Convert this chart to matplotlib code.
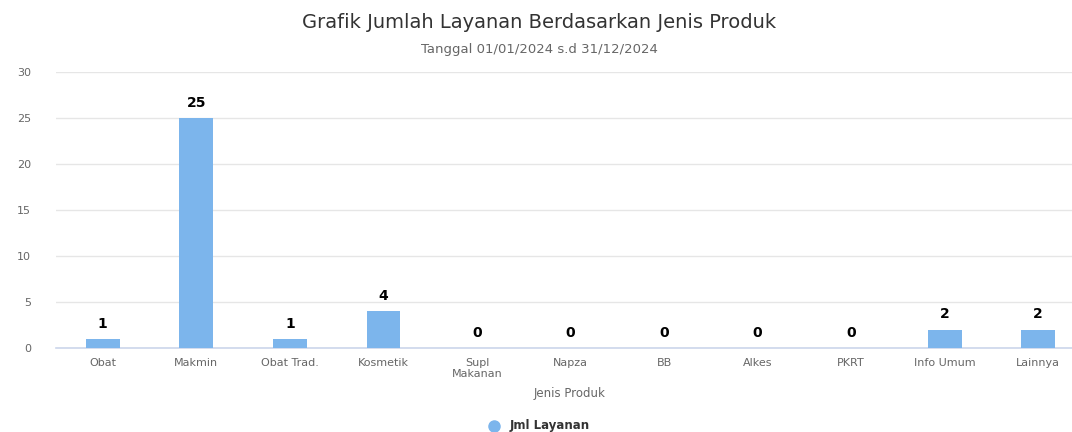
import numpy as np
import matplotlib
matplotlib.use("Agg")
import matplotlib.pyplot as plt

# data
categories = ["Obat", "Makmin", "Obat Trad.", "Kosmetik", "Supl\nMakanan", "Napza",
              "BB", "Alkes", "PKRT", "Info Umum", "Lainnya"]
jml_layanan = [1, 25, 1, 4, 0, 0, 0, 0, 0, 2, 2]
y_ticks = [0, 5, 10, 15, 20, 25, 30]

W, H = 1072, 432
fig = plt.figure(figsize=(W / 100, H / 100), dpi=100)
fig.patch.set_facecolor("white")

# plot area runs past the right edge (cropped in the reference)
left, right = 56, 1085
bottom, top = 348, 72
ax = fig.add_axes([left / W, (H - bottom) / H, (right - left) / W, (bottom - top) / H])

x = np.arange(len(categories))
ax.bar(x, jml_layanan, width=0.36, color="#7cb5ec", zorder=3)
for xi, v in zip(x, jml_layanan):
    ax.text(xi, v + 0.9, str(v), ha="center", va="bottom", fontsize=10,
            fontweight="bold", color="#000000")

ax.set_xlim(-0.5, len(categories) - 0.5)
ax.set_ylim(0, 30)
ax.set_yticks(y_ticks)
ax.set_xticks(x)
ax.set_xticklabels(categories, fontsize=8, color="#666666", linespacing=1.1)
ax.tick_params(axis="y", labelsize=8, labelcolor="#666666", length=0, pad=18)
ax.tick_params(axis="x", length=0, pad=7)
ax.grid(axis="y", color="#e6e6e6", linewidth=1, zorder=0)
for s in ["top", "right", "left"]:
    ax.spines[s].set_visible(False)
ax.spines["bottom"].set_color("#ccd6eb")
ax.spines["bottom"].set_linewidth(1.2)

fig.text(539 / W, 1 - 23 / H, "Grafik Jumlah Layanan Berdasarkan Jenis Produk",
         ha="center", va="center", fontsize=14, color="#333333")
fig.text(539 / W, 1 - 50 / H, "Tanggal 01/01/2024 s.d 31/12/2024",
         ha="center", va="center", fontsize=9.5, color="#666666")
fig.text(570 / W, 1 - 394 / H, "Jenis Produk", ha="center", va="center",
         fontsize=8.5, color="#666666")

# legend
fig.lines.append(plt.Line2D([494 / W], [1 - 426 / H], marker="o", markersize=8,
                            color="#7cb5ec", transform=fig.transFigure))
fig.text(510 / W, 1 - 426 / H, "Jml Layanan", ha="left", va="center",
         fontsize=8.5, fontweight="bold", color="#333333")

fig.savefig("out.png", dpi=100)
